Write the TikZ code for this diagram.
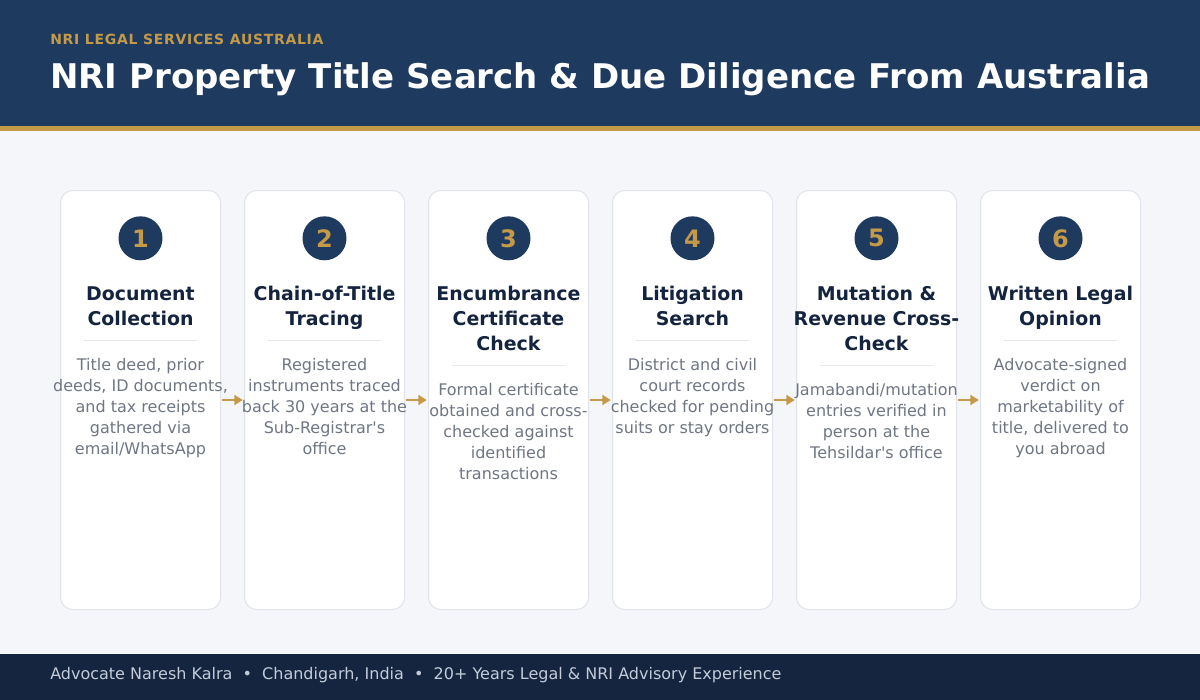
\documentclass[tikz,border=0pt]{standalone}
\usepackage{fontspec}
\setmainfont{DejaVu Sans}
\usepackage{xcolor}
\usetikzlibrary{positioning, arrows.meta}

\definecolor{headnavy}{HTML}{1F3A5F}
\definecolor{footnavy}{HTML}{15243F}
\definecolor{gold}{HTML}{C49A48}
\definecolor{ink}{HTML}{14243F}
\definecolor{slate}{HTML}{6F7684}
\definecolor{pagebg}{HTML}{F5F6FA}
\definecolor{cardline}{HTML}{E0E3EB}
\definecolor{rulegray}{HTML}{E5E7EC}
\definecolor{footgray}{HTML}{C3CBD9}

\begin{document}
\begin{tikzpicture}[
    x=0.75pt, y=-0.75pt, % one unit is one pixel of the 1200x700 layout
    every node/.style={inner sep=0pt},
    card/.style={draw=cardline, line width=0.75pt, fill=white, rounded corners=9pt,
        minimum width=120pt, minimum height=314.25pt},
    badge/.style={circle, fill=headnavy, minimum size=33pt, text=gold,
        font=\fontsize{18}{18}\selectfont\bfseries},
    steptitle/.style={anchor=north, align=center, text=ink,
        font=\fontsize{14.2}{18.75}\selectfont\bfseries},
    stepnote/.style={anchor=north, align=center, text=slate,
        font=\fontsize{12}{15.75}\selectfont},
    divider/.style={draw=rulegray, line width=0.75pt},
    flow/.style={draw=gold, line width=2pt, shorten <=1.1pt, shorten >=0.9pt,
        -{Triangle[length=6.4pt,width=7.5pt]}}
]
    % 1. Background, header band and footer band
    \fill[pagebg] (0,0) rectangle (1200,700);
    \fill[headnavy] (0,0) rectangle (1200,126);
    \fill[gold] (0,126) rectangle (1200,131);
    \fill[footnavy] (0,654) rectangle (1200,700);
    \useasboundingbox (0,0) rectangle (1200,700);

    \node[anchor=base west, text=gold,
        font=\fontsize{10.5}{10.5}\selectfont\bfseries\addfontfeatures{LetterSpace=5}]
        (kicker) at (50,44) {NRI LEGAL SERVICES AUSTRALIA};
    \node[anchor=base west, text=white, font=\fontsize{25.5}{25.5}\selectfont\bfseries]
        (headline) at (50,88) {NRI Property Title Search \& Due Diligence From Australia};

    % 2. The six step cards
    \node[card] (c1) at (140.5,400) {};
    \node[card] (c2) at (324.5,400) {};
    \node[card] (c3) at (508.5,400) {};
    \node[card] (c4) at (692.5,400) {};
    \node[card] (c5) at (876.5,400) {};
    \node[card] (c6) at (1060.5,400) {};

    % 3. Arrows between the cards
    \draw[flow] (c1) -- (c2);
    \draw[flow] (c2) -- (c3);
    \draw[flow] (c3) -- (c4);
    \draw[flow] (c4) -- (c5);
    \draw[flow] (c5) -- (c6);

    % 4. Card contents: badge, title, divider, note
    % Step 1
    \node[badge] (b1) at (140.5,238.3) {1};
    \node[steptitle] (t1) at (140.5,286.3) {Document\\Collection};
    \draw[divider] (84,340.3) -- (197,340.3);
    \node[stepnote] (n1) at (140.5,357.8) {Title deed, prior\\deeds, ID documents,\\and tax receipts\\gathered via\\email/WhatsApp};

    % Step 2
    \node[badge] (b2) at (324.5,238.3) {2};
    \node[steptitle] (t2) at (324.5,286.3) {Chain-of-Title\\Tracing};
    \draw[divider] (268,340.3) -- (381,340.3);
    \node[stepnote] (n2) at (324.5,357.8) {Registered\\instruments traced\\back 30 years at the\\Sub-Registrar\textquotesingle s\\office};

    % Step 3
    \node[badge] (b3) at (508.5,238.3) {3};
    \node[steptitle] (t3) at (508.5,286.3) {Encumbrance\\Certificate\\Check};
    \draw[divider] (452,365.3) -- (565,365.3);
    \node[stepnote] (n3) at (508.5,382.8) {Formal certificate\\obtained and cross-\\checked against\\identified\\transactions};

    % Step 4
    \node[badge] (b4) at (692.5,238.3) {4};
    \node[steptitle] (t4) at (692.5,286.3) {Litigation\\Search};
    \draw[divider] (636,340.3) -- (749,340.3);
    \node[stepnote] (n4) at (692.5,357.8) {District and civil\\court records\\checked for pending\\suits or stay orders};

    % Step 5
    \node[badge] (b5) at (876.5,238.3) {5};
    \node[steptitle] (t5) at (876.5,286.3) {Mutation \&\\Revenue Cross-\\Check};
    \draw[divider] (820,365.3) -- (933,365.3);
    \node[stepnote] (n5) at (876.5,382.8) {Jamabandi/mutation\\entries verified in\\person at the\\Tehsildar\textquotesingle s office};

    % Step 6
    \node[badge] (b6) at (1060.5,238.3) {6};
    \node[steptitle] (t6) at (1060.5,286.3) {Written Legal\\Opinion};
    \draw[divider] (1004,340.3) -- (1117,340.3);
    \node[stepnote] (n6) at (1060.5,357.8) {Advocate-signed\\verdict on\\marketability of\\title, delivered to\\you abroad};

    % 5. Footer line
    \node[anchor=base west, text=footgray, font=\fontsize{12}{12}\selectfont]
        (credit) at (50,679.5) {Advocate Naresh Kalra~~•~~Chandigarh, India~~•~~20+ Years Legal \& NRI Advisory Experience};
\end{tikzpicture}
\end{document}
